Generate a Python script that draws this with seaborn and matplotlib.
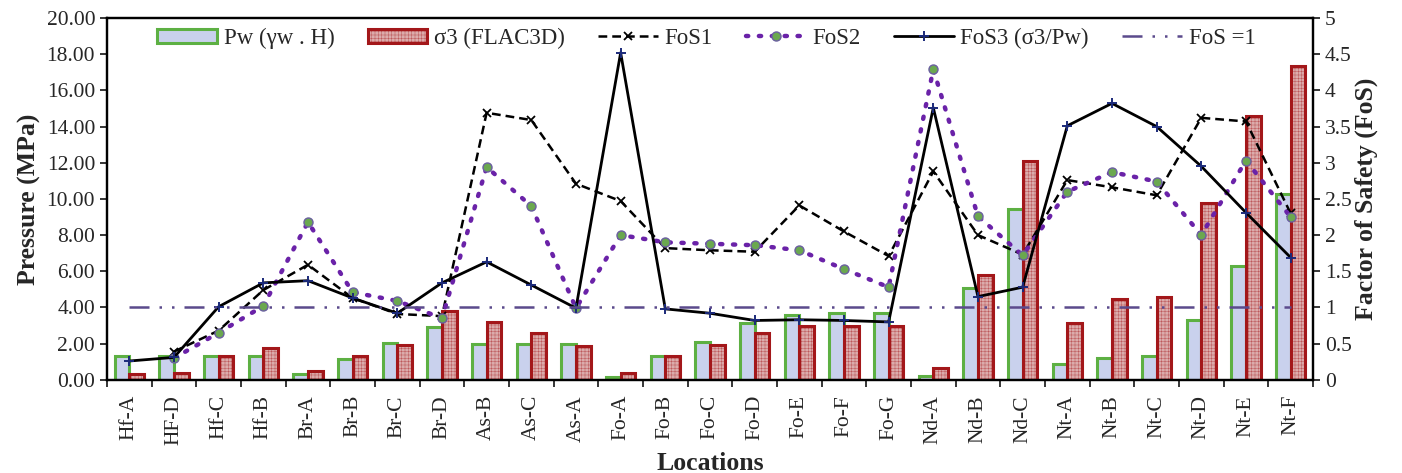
import numpy as np
import pandas as pd
import seaborn as sns
import matplotlib.pyplot as plt
from matplotlib.patches import Patch
from matplotlib.ticker import FormatStrFormatter, FuncFormatter

locations = ['Hf-A', 'HF-D', 'Hf-C', 'Hf-B', 'Br-A', 'Br-B', 'Br-C', 'Br-D',
             'As-B', 'As-C', 'As-A', 'Fo-A', 'Fo-B', 'Fo-C', 'Fo-D', 'Fo-E',
             'Fo-F', 'Fo-G', 'Nd-A', 'Nd-B', 'Nd-C', 'Nt-A', 'Nt-B', 'Nt-C',
             'Nt-D', 'Nt-E', 'Nt-F']

# pressures (MPa)
pw = [1.30, 1.30, 1.30, 1.30, 0.33, 1.15, 2.03, 2.90,
      1.97, 1.97, 1.97, 0.13, 1.33, 2.08, 3.13, 3.59,
      3.69, 3.72, 0.22, 5.05, 9.46, 0.90, 1.18, 1.33,
      3.28, 6.30, 10.25]
sigma3 = [0.33, 0.40, 1.33, 1.75, 0.50, 1.30, 1.94, 3.83,
          3.19, 2.58, 1.88, 0.37, 1.29, 1.92, 2.58, 2.99,
          2.99, 2.99, 0.68, 5.79, 12.07, 3.13, 4.46, 4.59,
          9.79, 14.56, 17.36]

# factors of safety
fos1 = [np.nan, 0.39, 0.68, 1.24, 1.59, 1.13, 0.91, 0.88,
        3.69, 3.59, 2.71, 2.47, 1.82, 1.79, 1.77, 2.41,
        2.05, 1.71, 2.88, 2.00, 1.73, 2.76, 2.66, 2.55,
        3.62, 3.57, 2.30]
fos2 = [np.nan, 0.30, 0.65, 1.02, 2.18, 1.21, 1.09, 0.85,
        2.94, 2.40, 0.99, 2.00, 1.90, 1.88, 1.86, 1.79,
        1.53, 1.28, 4.29, 2.26, 1.72, 2.60, 2.87, 2.74,
        2.00, 3.03, 2.25]
fos3 = [0.26, 0.31, 1.01, 1.34, 1.37, 1.13, 0.92, 1.34,
        1.63, 1.31, 0.99, 4.52, 0.98, 0.92, 0.82, 0.83,
        0.82, 0.80, 3.76, 1.15, 1.28, 3.51, 3.82, 3.50,
        2.95, 2.31, 1.69]
fos_one = [1.0] * len(locations)

bar_names = ['Pw (γw . H)', 'σ3 (FLAC3D)']
bar_fill = ['#c9d1ed', '#dcabab']
bar_edge = ['#5db043', '#a3171a']

sns.set_style('ticks')
plt.rcParams['font.family'] = ['Liberation Serif', 'DejaVu Serif']
plt.rcParams['hatch.linewidth'] = 0.2

df = pd.DataFrame({
    'Location': locations * 2,
    'Pressure': pw + sigma3,
    'Series': [bar_names[0]] * len(locations) + [bar_names[1]] * len(locations),
})

fig = plt.figure(figsize=(14.02, 4.73), dpi=100)
ax = fig.add_axes([0.0763, 0.197, 0.8602, 0.765])

sns.barplot(data=df, x='Location', y='Pressure', hue='Series', order=locations,
            hue_order=bar_names, palette=bar_fill, saturation=1, width=0.66,
            linewidth=2.2, legend=False, ax=ax)

# sigma3 bars get the red edge and a fine grid texture
for i, cont in enumerate(ax.containers):
    for bar in cont:
        bar.set_edgecolor(bar_edge[i])
        if i == 1:
            bar.set_hatch('+++++')

ax.set_ylim(0, 20)
ax.set_xlim(-0.5, len(locations) - 0.5)
ax.set_yticks(np.arange(0, 21, 2))
ax.yaxis.set_major_formatter(FormatStrFormatter('%.2f'))
ax.set_xticks(np.arange(-0.5, len(locations), 1))
ax.set_xticklabels([])
ax.set_xticks(np.arange(len(locations)), minor=True)
ax.set_xticklabels(locations, minor=True, rotation=90, fontsize=15.5)
ax.tick_params(axis='x', which='minor', length=0, pad=11)
ax.tick_params(axis='x', which='major', length=5, width=1.3, direction='out')
ax.tick_params(axis='y', length=5, width=1.3, direction='out', labelsize=15.5)
ax.set_ylabel('Pressure (MPa)', fontsize=18.5, fontweight='bold', labelpad=4)
ax.set_xlabel('Locations', fontsize=18.5, fontweight='bold')
ax.xaxis.label.set_va('baseline')
ax.xaxis.set_label_coords(0.5, -0.25)

ax2 = ax.twinx()
x = np.arange(len(locations))
ax2.plot(x, fos1, color='black', ls=(0, (3.5, 2)), lw=1.8, marker='x',
         ms=6, mew=1.3, label='FoS1')
ax2.plot(x, fos2, color='#6a22a8', ls=(0, (0.5, 2.4)), lw=3.2,
         dash_capstyle='round', marker='o', ms=6.5, mfc='#6aa84f',
         mec='#6a5fa0', mew=1.0, label='FoS2')
ax2.plot(x, fos3, color='black', ls='-', lw=2.0, marker='+', ms=7,
         mew=1.4, mec='#1b2a7a', label='FoS3 (σ3/Pw)')
ax2.plot(x, fos_one, color='#5b4a8c', ls=(0, (8, 4, 1, 4, 1, 4)), lw=1.8,
         label='FoS =1')
ax2.set_ylim(0, 5)
ax2.set_yticks(np.arange(0, 5.01, 0.5))
ax2.yaxis.set_major_formatter(FuncFormatter(lambda v, p: f'{v:g}'))
ax2.tick_params(axis='y', length=5, width=1.3, direction='out', labelsize=15.5)
ax2.set_ylabel('Factor of Safety (FoS)', fontsize=18.5, fontweight='bold',
               labelpad=2)

for a in (ax, ax2):
    for s in a.spines.values():
        s.set_visible(True)
        s.set_linewidth(1.6)
        s.set_color('black')

bar_handles = [Patch(facecolor=bar_fill[0], edgecolor=bar_edge[0], lw=2.2),
               Patch(facecolor=bar_fill[1], edgecolor=bar_edge[1], lw=2.2,
                     hatch='+++++')]
line_handles, line_labels = ax2.get_legend_handles_labels()
ax2.legend(bar_handles + line_handles, bar_names + line_labels,
           loc='upper center', bbox_to_anchor=(0.497, 1.03), ncol=6,
           frameon=False, fontsize=16.5, handlelength=2.6, handleheight=0.6,
           handletextpad=0.3, columnspacing=1.45)

fig.savefig('out.png', dpi=100)
